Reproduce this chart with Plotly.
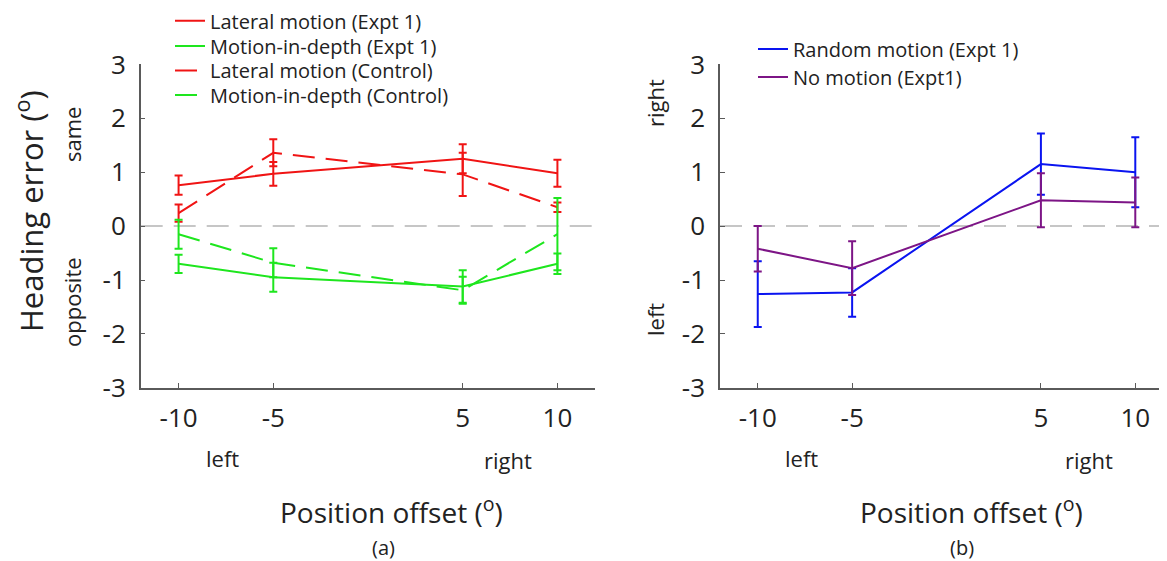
import plotly.graph_objects as go

# ---------------- data ----------------
offsets = [-10, -5, 5, 10]

lat_expt1 = [0.76, 0.97, 1.25, 0.98]
lat_expt1_err = [0.18, 0.22, 0.27, 0.25]
mid_expt1 = [-0.70, -0.95, -1.12, -0.70]
mid_expt1_err = [0.17, 0.27, 0.30, 0.19]
lat_ctrl = [0.24, 1.36, 0.96, 0.35]
lat_ctrl_err = [0.16, 0.25, 0.40, 0.09]
mid_ctrl = [-0.15, -0.68, -1.19, -0.15]
mid_ctrl_err = [0.27, 0.27, 0.25, 0.67]

rand_motion = [-1.26, -1.23, 1.15, 1.00]
rand_motion_err = [0.61, 0.45, 0.57, 0.65]
no_motion = [-0.42, -0.78, 0.48, 0.44]
no_motion_err = [0.42, 0.50, 0.50, 0.46]

x_ticks = [-10, -5, 5, 10]
x_tick_labels = ["-10", "-5", "5", "10"]
y_ticks = [-3, -2, -1, 0, 1, 2, 3]
y_tick_labels = ["-3", "-2", "-1", "0", "1", "2", "3"]

# ---------------- style ----------------
OFF = 8                      # page body margin of the html page
W, H = 1167 - OFF, 561 - OFF
FONT = "Open Sans"
TXT = "#222222"
AX = "#5a5a5a"
RED = "#f01414"
GREEN = "#1ee61e"
BLUE = "#0a14f0"
PURPLE = "#7d1586"
DASH = "22px,11px"


def px(x):
    return (x - OFF) / W


def py(y):
    return 1 - (y - OFF) / H


fig = go.Figure()

# (trace args, legend id, legend x px, legend row centre px)
series = [
    (lat_expt1, lat_expt1_err, RED, "Lateral motion (Expt 1)", "solid", "x", "y", "legend", 170, 20.7),
    (mid_expt1, mid_expt1_err, GREEN, "Motion-in-depth (Expt 1)", "solid", "x", "y", "legend3", 170, 46),
    (lat_ctrl, lat_ctrl_err, RED, "Lateral motion (Control)", DASH, "x", "y", "legend4", 170, 70.5),
    (mid_ctrl, mid_ctrl_err, GREEN, "Motion-in-depth (Control)", DASH, "x", "y", "legend5", 170, 95),
    (rand_motion, rand_motion_err, BLUE, "Random motion (Expt 1)", "solid", "x2", "y2", "legend2", 753, 49),
    (no_motion, no_motion_err, PURPLE, "No motion (Expt1)", "solid", "x2", "y2", "legend6", 753, 77),
]

legends = {}
for y, e, color, name, dash, xa, ya, leg, lx, ly in series:
    fig.add_trace(go.Scatter(
        x=offsets, y=y, mode="lines", name=name,
        line=dict(color=color, width=2, dash=dash),
        error_y=dict(type="data", array=e, visible=True, color=color,
                     thickness=2, width=4),
        xaxis=xa, yaxis=ya, legend=leg,
    ))
    legends[leg] = dict(x=px(lx), y=py(ly), xanchor="left", yanchor="middle",
                        bgcolor="rgba(0,0,0,0)",
                        font=dict(family=FONT, size=20, color=TXT))

# zero reference lines
for xr, yr in (("x domain", "y"), ("x2 domain", "y2")):
    fig.add_shape(type="line", xref=xr, yref=yr, x0=0, x1=1, y0=0, y1=0,
                  line=dict(color="#b4b4b4", width=1.5, dash=DASH), layer="below")

y_dom = [py(387.8), py(64.4)]
axis_common = dict(showline=True, linecolor=AX, linewidth=1.5, ticks="inside",
                   ticklen=5, tickcolor=AX, tickwidth=1, showgrid=False,
                   zeroline=False, mirror=False,
                   tickfont=dict(family=FONT, size=26, color=TXT))

fig.update_layout(
    width=W, height=H,
    margin=dict(l=0, r=0, t=0, b=0, autoexpand=False),
    paper_bgcolor="white", plot_bgcolor="white",
    font=dict(family=FONT, color=TXT),
    xaxis=dict(domain=[px(140.7), px(595.3)], range=[-12, 12], tickvals=x_ticks,
               ticktext=x_tick_labels, ticklabelstandoff=6, anchor="y", **axis_common),
    yaxis=dict(domain=y_dom, range=[-3, 3], tickvals=y_ticks, ticktext=y_tick_labels,
               anchor="x", ticklabelstandoff=8, **axis_common),
    xaxis2=dict(domain=[px(720), 1.0], range=[-12, 11.68], tickvals=x_ticks,
                ticktext=x_tick_labels, ticklabelstandoff=6, anchor="y2", **axis_common),
    yaxis2=dict(domain=y_dom, range=[-3, 3], tickvals=y_ticks, ticktext=y_tick_labels,
                anchor="x2", ticklabelstandoff=8, **axis_common),
    showlegend=True,
    **legends,
)


def note(text, x, y, size, angle=0):
    fig.add_annotation(text=text, x=px(x), y=py(y), xref="paper", yref="paper",
                       showarrow=False, textangle=angle, xanchor="center",
                       yanchor="middle", font=dict(family=FONT, size=size, color=TXT))


note("Heading error (<sup>o</sup>)", 30, 211, 31, -90)
note("same", 72, 135, 22, -90)
note("opposite", 72, 302, 22, -90)
note("right", 655, 103, 22, -90)
note("left", 655, 320, 22, -90)

note("left", 222, 458, 22)
note("right", 508, 460, 22)
note("Position offset (<sup>o</sup>)", 392, 510, 28)
note("(a)", 383, 547, 20)

note("left", 801, 458, 22)
note("right", 1089, 460, 22)
note("Position offset (<sup>o</sup>)", 971, 510, 28)
note("(b)", 962, 547, 20)

fig.write_html("out.html")
